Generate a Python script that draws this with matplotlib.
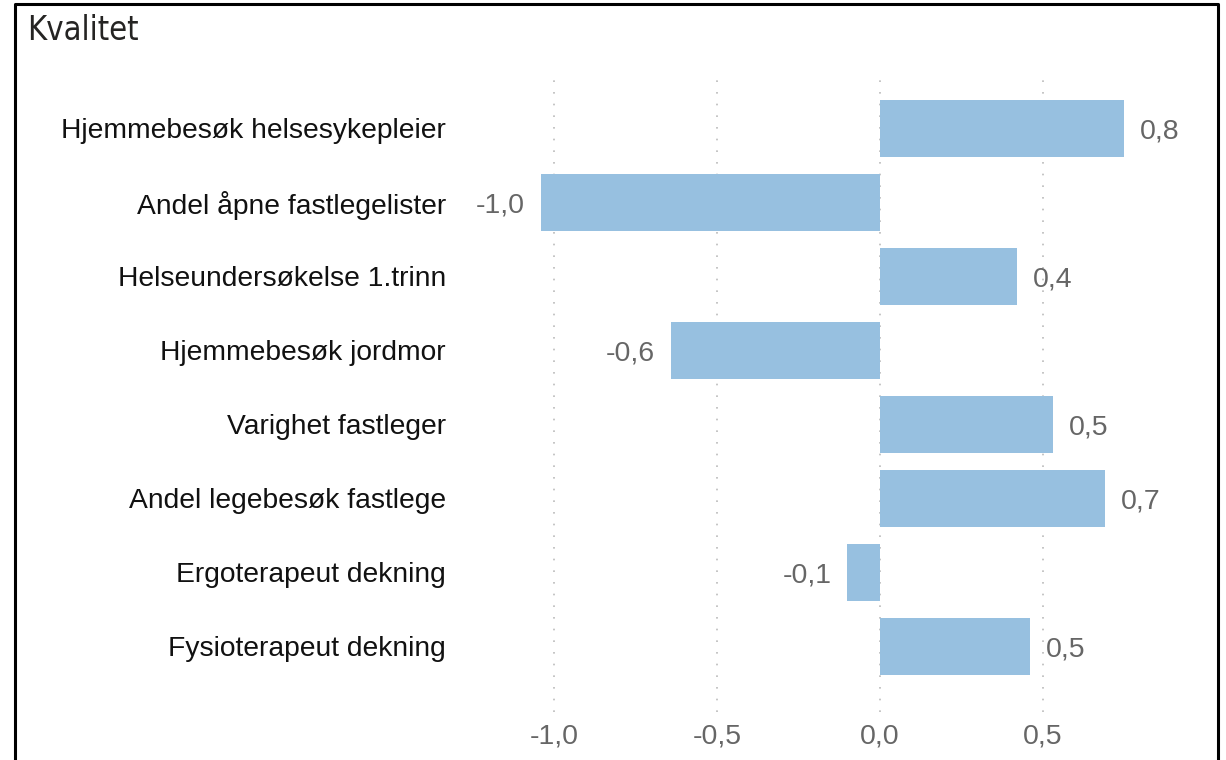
import matplotlib.pyplot as plt
from matplotlib.lines import Line2D

categories = ["Hjemmebesøk helsesykepleier", "Andel åpne fastlegelister", "Helseundersøkelse 1.trinn",
              "Hjemmebesøk jordmor", "Varighet fastleger", "Andel legebesøk fastlege",
              "Ergoterapeut dekning", "Fysioterapeut dekning"]
values = [0.75, -1.04, 0.42, -0.64, 0.53, 0.69, -0.10, 0.46]
xticks = [-1.0, -0.5, 0.0, 0.5]

plt.rcParams['font.family'] = ['Liberation Sans', 'DejaVu Sans']

fig = plt.figure(figsize=(12.26, 7.6), dpi=100)
ax = fig.add_axes([460 / 1226, 1 - 712 / 760, 740 / 1226, 637 / 760])

pos = list(range(len(categories)))
ax.barh(pos, values, height=0.77, color='#97c0e0', zorder=2)
ax.set_ylim(7.89, -0.72)
ax.set_xlim(-1.288, 0.982)

for p, v in zip(pos, values):
    label = f"{v:.1f}".replace('.', ',')
    if v >= 0:
        ax.annotate(label, (v, p), xytext=(11.5, 0), textcoords='offset points',
                    ha='left', va='center_baseline', fontsize=20.5, color='#666666')
    else:
        ax.annotate(label, (v, p), xytext=(-11.5, 0), textcoords='offset points',
                    ha='right', va='center_baseline', fontsize=20.5, color='#666666')

ax.set_yticks(pos)
ax.set_yticklabels(categories, fontsize=20.3, color='#111111', va='center_baseline')
ax.set_xticks(xticks)
ax.set_xticklabels([f"{t:.1f}".replace('.', ',') for t in xticks], fontsize=20.5, color='#666666')
ax.tick_params(length=0)
ax.tick_params(axis='y', pad=10)
ax.tick_params(axis='x', pad=8)
ax.grid(axis='x', linestyle=(0, (1, 6)), color='#bbbbbb', linewidth=1.2, zorder=0)
for s in ax.spines.values():
    s.set_visible(False)

fig.text(27 / 1226, 1 - 30 / 760, "Kvalitet", fontsize=23.5, color='#252423',
         family='DejaVu Sans', fontstretch='condensed', ha='left', va='center')

# frame round the visual (bottom edge is cut off)
x0, x1, y1 = 15 / 1226, 1218 / 1226, 1 - 4 / 760
fig.add_artist(Line2D([x0, x0, x1, x1], [0, y1, y1, 0], color='black', linewidth=2.2,
                      transform=fig.transFigure))

fig.savefig('out.png', dpi=100)
